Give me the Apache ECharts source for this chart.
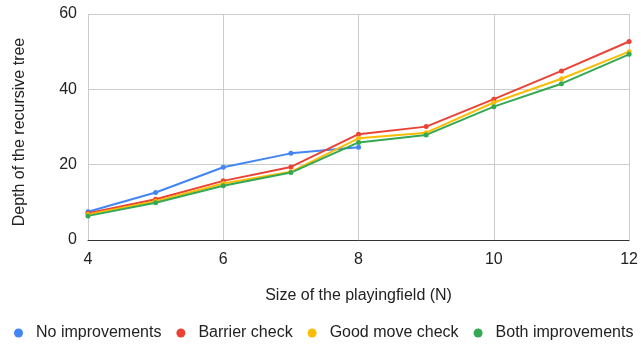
<!DOCTYPE html>
<html>
<head>
<meta charset="utf-8">
<script src="https://cdn.jsdelivr.net/npm/echarts@6/dist/echarts.min.js"></script>
<style>
  html, body { margin: 0; padding: 0; background: #fff; }
  #chart { width: 641px; height: 345px; }
</style>
</head>
<body>
<div id="chart"></div>
<script>
// size of the playingfield
const sizes = [4, 5, 6, 7, 8, 9, 10, 11, 12];
const noImprovements = [7.5, 12.6, 19.3, 23.0, 24.6];
const barrierCheck = [7.1, 10.8, 15.7, 19.4, 28.1, 30.1, 37.4, 44.9, 52.7];
const goodMoveCheck = [6.8, 10.3, 15.0, 18.1, 27.0, 28.5, 36.5, 42.8, 50.0];
const bothImprovements = [6.4, 9.9, 14.4, 17.9, 25.9, 27.9, 35.4, 41.5, 49.3];
const yTicks = [0, 20, 40, 60];

const font = '"Liberation Sans", Arial, sans-serif';

function pairs(vals) {
    return vals.map((v, i) => [sizes[i], v]);
}

function line(name, vals, color) {
    return {
        name: name,
        type: 'line',
        data: pairs(vals),
        symbol: 'circle',
        symbolSize: 5,
        itemStyle: { color: color },
        lineStyle: { width: 2, color: color },
        emphasis: { disabled: true }
    };
}

const chart = echarts.init(document.getElementById('chart'));
chart.setOption({
    animation: false,
    textStyle: { fontFamily: font },
    grid: { left: 88, right: 8, top: 14, bottom: 105, containLabel: false },
    legend: {
        top: 325,
        left: 14,
        padding: 0,
        icon: 'circle',
        itemWidth: 9,
        itemHeight: 9,
        itemGap: 15,
        textStyle: { fontSize: 16, color: '#222', fontFamily: font, padding: [0, 0, 0, 8] }
    },
    xAxis: {
        type: 'value',
        min: 4,
        max: 12,
        interval: 2,
        name: 'Size of the playingfield (N)',
        nameLocation: 'middle',
        nameGap: 48,
        nameTextStyle: { fontSize: 16, color: '#222' },
        axisLine: { show: true, lineStyle: { color: '#333', width: 1 } },
        axisTick: { show: false },
        axisLabel: { fontSize: 16, color: '#222', margin: 12 },
        splitLine: { show: true, lineStyle: { color: '#ccc' } }
    },
    yAxis: {
        type: 'value',
        min: yTicks[0],
        max: yTicks[yTicks.length - 1],
        interval: yTicks[1] - yTicks[0],
        name: 'Depth of the recursive tree',
        nameLocation: 'middle',
        nameGap: 60,
        nameTextStyle: { fontSize: 16, color: '#222', padding: [0, 10, 0, 0] },
        axisLine: { show: false },
        axisTick: { show: false },
        axisLabel: { fontSize: 16, color: '#222', margin: 11 },
        splitLine: { show: true, lineStyle: { color: '#ccc' } }
    },
    series: [
        line('No improvements', noImprovements, '#4285F4'),
        line('Barrier check', barrierCheck, '#EA4335'),
        line('Good move check', goodMoveCheck, '#FBBC04'),
        line('Both improvements', bothImprovements, '#34A853')
    ]
});
</script>
</body>
</html>
